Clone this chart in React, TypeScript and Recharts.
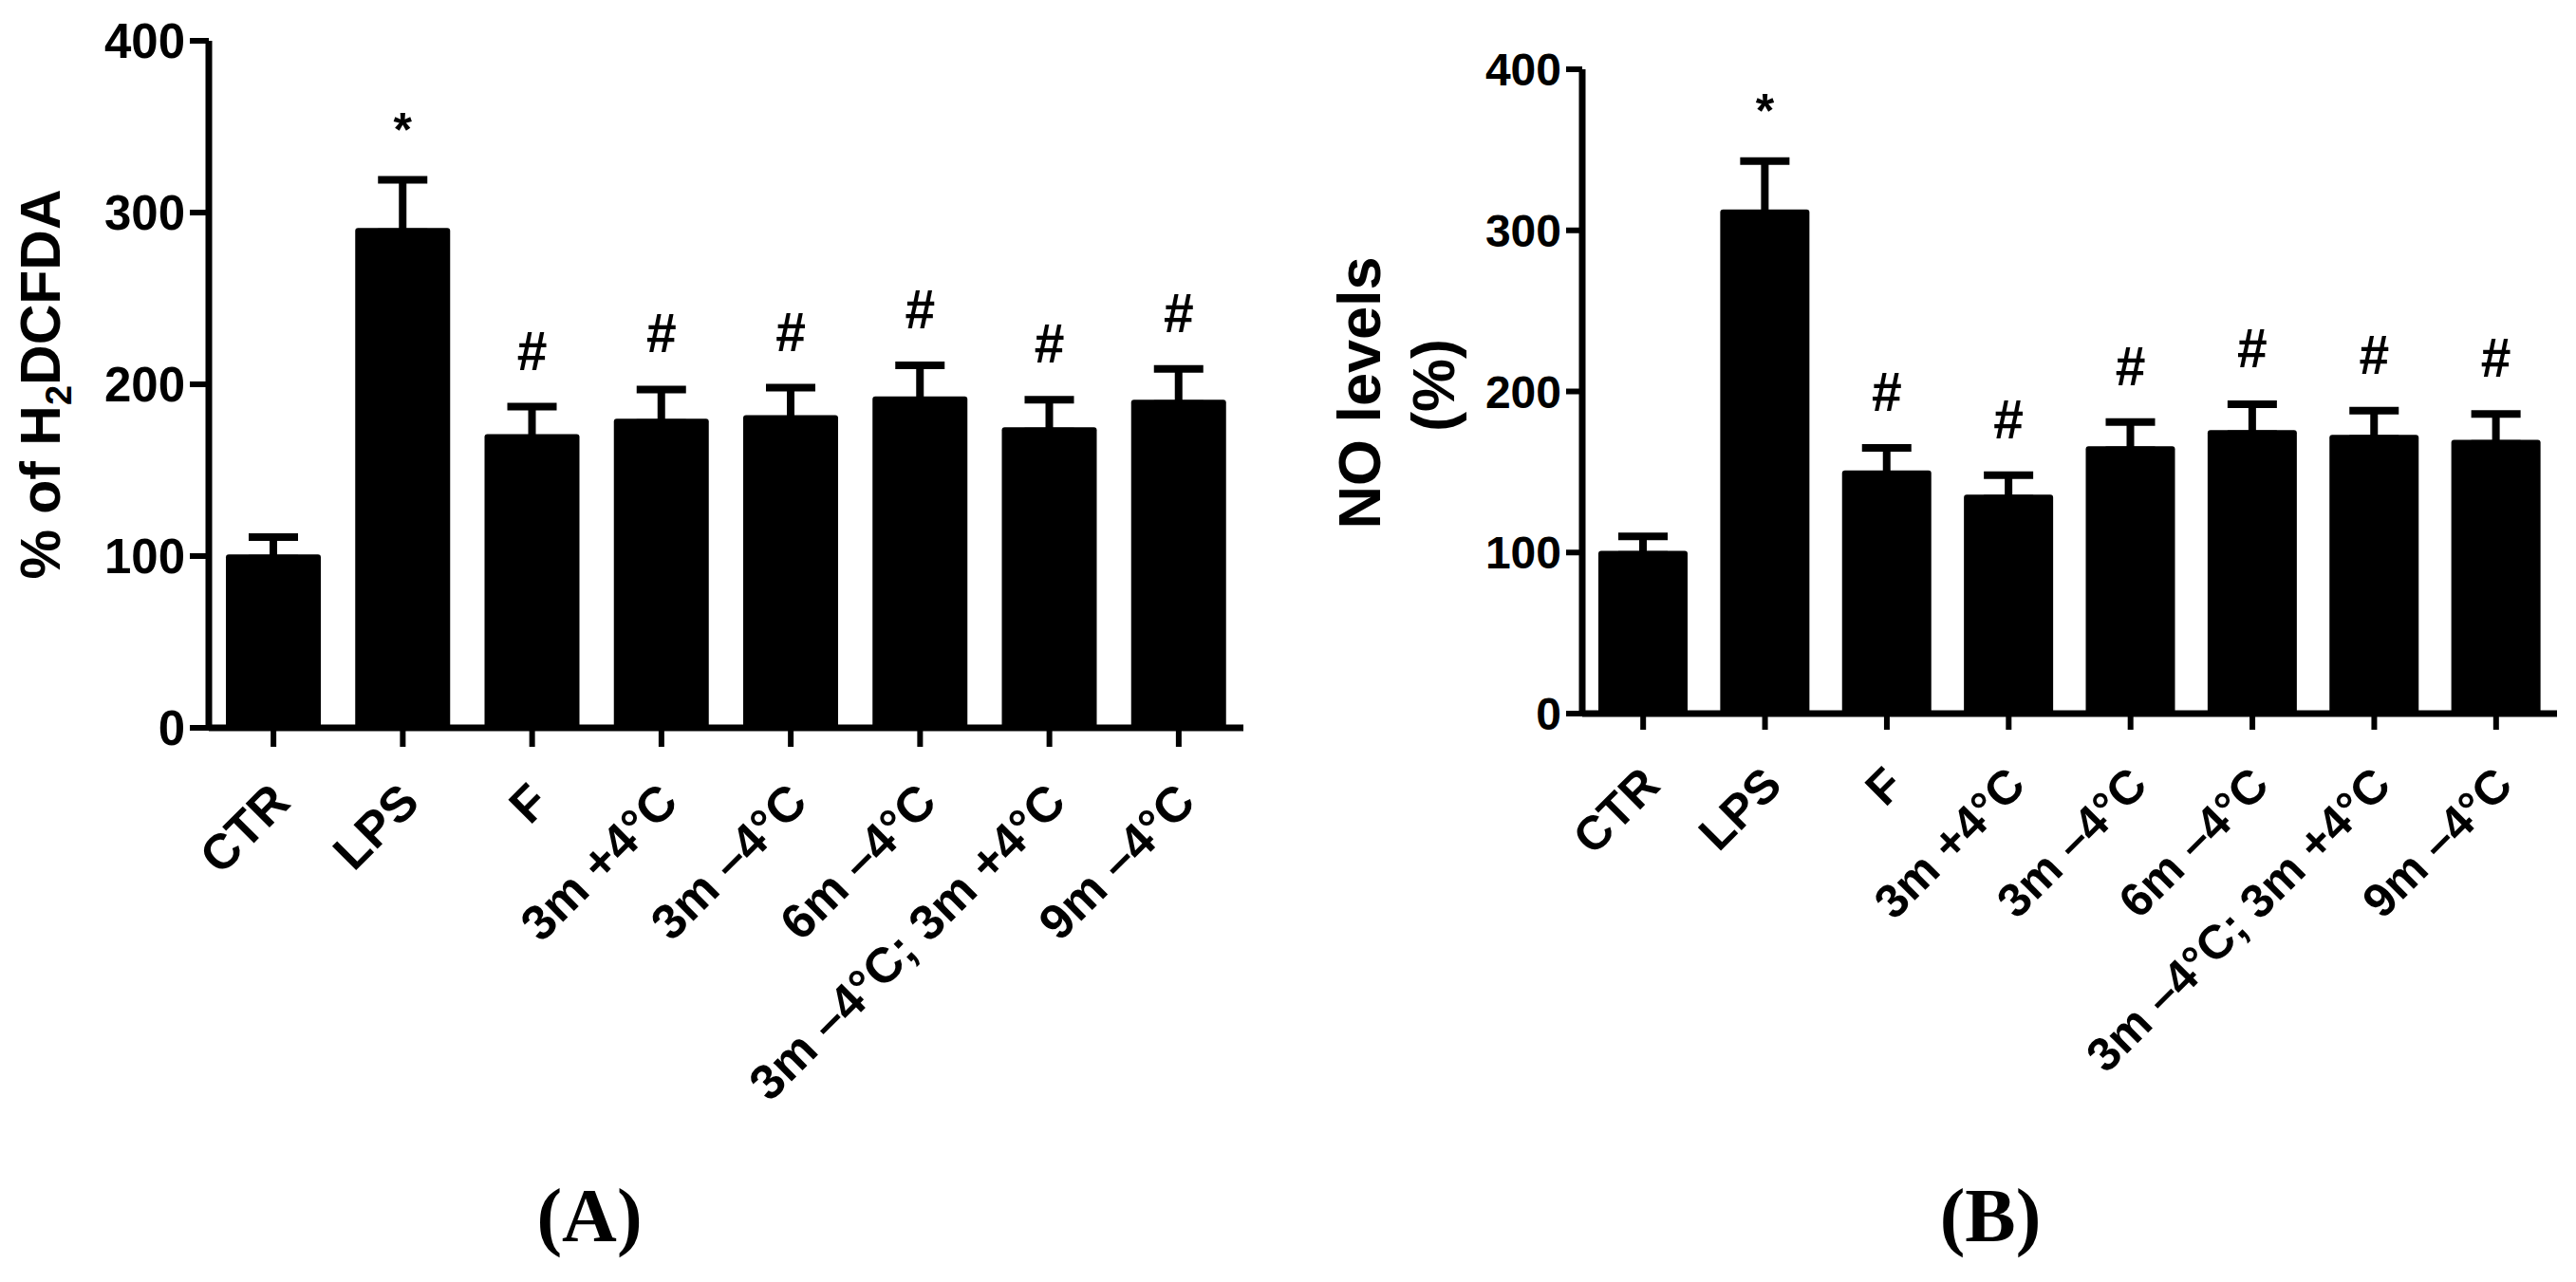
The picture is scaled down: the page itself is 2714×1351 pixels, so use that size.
import React from 'react';
import { BarChart, Bar, XAxis, YAxis, ErrorBar, LabelList } from 'recharts';

const categories = ['CTR', 'LPS', 'F', '3m +4°C', '3m –4°C', '6m –4°C', '3m –4°C; 3m +4°C', '9m –4°C'];
const rosValues = [101, 291, 171, 180, 182, 193, 175, 191];
const rosErrors = [10, 28, 16, 17, 16, 18, 16, 18];
const noValues = [101, 313, 151, 136, 166, 176, 173, 170];
const noErrors = [9, 30, 14, 12, 15, 16, 15, 16];
const marks = ['', '*', '#', '#', '#', '#', '#', '#'];
const yTicks = [0, 100, 200, 300, 400];

const FONT = '"Liberation Sans", Arial, sans-serif';
const SERIF = '"Liberation Serif", "Times New Roman", serif';
const STEM_INSET = 2.5;

type Row = { name: string; value: number; err: number; mark: string };

function buildRows(values: number[], errors: number[]): Row[] {
  return categories.map((name, i) => ({ name, value: values[i], err: errors[i], mark: marks[i] }));
}

const rosRows = buildRows(rosValues, rosErrors);
const noRows = buildRows(noValues, noErrors);

const makeXTick = (fontSize: number, dx: number, dy: number) => (props: any) => {
  const { x, y, payload } = props;
  return (
    <g transform={`translate(${x + dx},${y + dy}) rotate(-45)`}>
      <text x={0} y={0} textAnchor="end" fontFamily={FONT} fontWeight="bold" fontSize={fontSize} fill="#000">
        {payload.value}
      </text>
    </g>
  );
};

const makeMark = (rows: Row[]) => (props: any) => {
  const { x, y, width, height, index } = props;
  const row = rows[index];
  if (!row || !row.mark) return null;
  const pxPerUnit = Number(height) / row.value;
  const top = Number(y) - row.err * pxPerUnit;
  const isStar = row.mark === '*';
  return (
    <text
      x={Number(x) + Number(width) / 2}
      y={top - (isStar ? 36 : 39)}
      textAnchor="middle"
      fontFamily={FONT}
      fontWeight="bold"
      fontSize={isStar ? 50 : 57}
      fill="#000"
    >
      {row.mark}
    </text>
  );
};

const errRange = (d: Row) => [STEM_INSET, d.err];

function Panel(props: {
  rows: Row[];
  left: number;
  width: number;
  margin: { top: number; right: number; bottom: number; left: number };
  yAxisWidth: number;
  barSize: number;
  tickFont: number;
  xTickFont: number;
  tickSize: number;
  yLabel: (p: any) => React.ReactNode;
  caption: string;
  captionX: number;
}) {
  const { rows, left, width, margin, yAxisWidth, barSize, tickFont, xTickFont, tickSize, yLabel, caption, captionX } = props;
  return (
    <div style={{ position: 'absolute', left, top: 0 }}>
      <BarChart width={width} height={1351} data={rows} margin={margin}>
        <XAxis
          dataKey="name"
          interval={0}
          height={250}
          tickSize={tickSize}
          axisLine={{ stroke: '#000', strokeWidth: 7 }}
          tickLine={{ stroke: '#000', strokeWidth: 6 }}
          tick={makeXTick(xTickFont, 20, 59)}
          label={{
            content: () => (
              <text x={captionX} y={1308} textAnchor="middle" fontFamily={SERIF} fontWeight="bold" fontSize={80} fill="#000">
                {caption}
              </text>
            ),
          }}
        />
        <YAxis
          width={yAxisWidth}
          domain={[0, 400]}
          ticks={yTicks}
          interval={0}
          tickSize={tickSize}
          tickMargin={5}
          axisLine={{ stroke: '#000', strokeWidth: 7 }}
          tickLine={{ stroke: '#000', strokeWidth: 6 }}
          tick={{ fontFamily: FONT, fontWeight: 'bold', fontSize: tickFont, fill: '#000' }}
          label={{ content: yLabel }}
        />
        <Bar dataKey="value" fill="#000" barSize={barSize} radius={3} isAnimationActive={false}>
          <ErrorBar dataKey={errRange as any} width={26} strokeWidth={8} stroke="#000" direction="y" isAnimationActive={false} />
          <LabelList dataKey="mark" content={makeMark(rows)} />
        </Bar>
      </BarChart>
    </div>
  );
}

const rosLabel = () => (
  <text transform="translate(63,405) rotate(-90)" textAnchor="middle" fontFamily={FONT} fontWeight="bold" fontSize={59} fill="#000">
    % of H<tspan fontSize={38} dy={12}>2</tspan>
    <tspan dy={-12}>DCFDA</tspan>
  </text>
);

const noLabel = () => (
  <g>
    <text transform="translate(74,414) rotate(-90)" textAnchor="middle" fontFamily={FONT} fontWeight="bold" fontSize={63} fill="#000">
      NO levels
    </text>
    <text transform="translate(152,406) rotate(-90)" textAnchor="middle" fontFamily={FONT} fontWeight="bold" fontSize={63} fill="#000">
      (%)
    </text>
  </g>
);

export default function App() {
  return (
    <div style={{ position: 'absolute', left: 0, top: 0, width: 2714, height: 1351, background: '#fff', overflow: 'hidden' }}>
      <Panel
        rows={rosRows}
        left={0}
        width={1340}
        margin={{ top: 43, right: 30, bottom: 334, left: 0 }}
        yAxisWidth={220}
        barSize={100}
        tickFont={51}
        xTickFont={52}
        tickSize={20}
        yLabel={rosLabel}
        caption="(A)"
        captionX={621}
      />
      <Panel
        rows={noRows}
        left={1380}
        width={1334}
        margin={{ top: 73, right: 20, bottom: 349, left: 0 }}
        yAxisWidth={287}
        barSize={94}
        tickFont={48}
        xTickFont={50}
        tickSize={17}
        yLabel={noLabel}
        caption="(B)"
        captionX={717}
      />
    </div>
  );
}
